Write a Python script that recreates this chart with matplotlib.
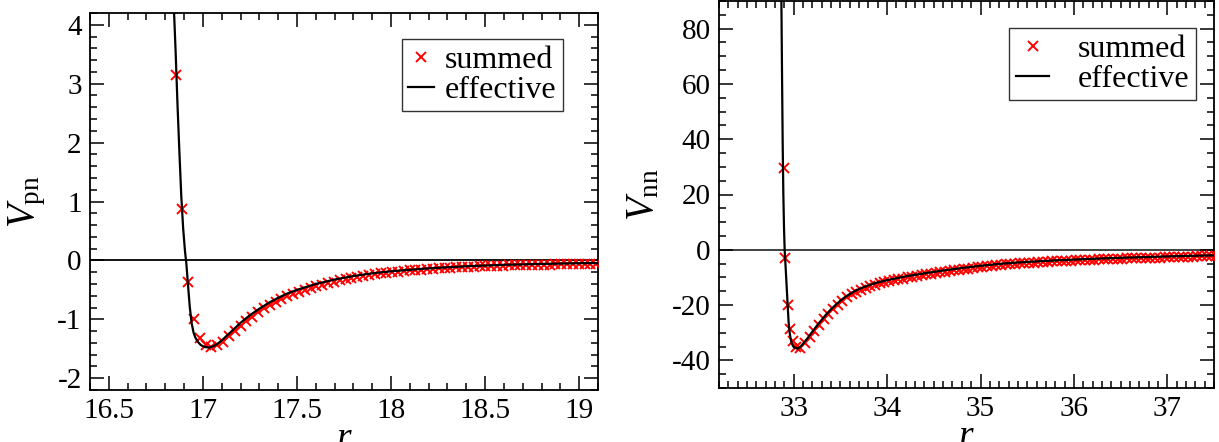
import matplotlib
matplotlib.use('Agg')
import matplotlib.pyplot as plt
from matplotlib.ticker import MultipleLocator, FormatStrFormatter

# =============================================================================
# DATA
# =============================================================================

# --- left panel : V_pn ---
r_pn_summed = [16.859, 16.890, 16.921, 16.952, 16.983, 17.014, 17.045, 17.076, 17.107, 17.138,
               17.169, 17.200, 17.231, 17.262, 17.293, 17.324, 17.355, 17.386, 17.417, 17.448,
               17.479, 17.510, 17.541, 17.572, 17.603, 17.634, 17.665, 17.696, 17.727, 17.758,
               17.789, 17.820, 17.851, 17.882, 17.913, 17.944, 17.975, 18.006, 18.037, 18.068,
               18.099, 18.130, 18.161, 18.192, 18.223, 18.254, 18.285, 18.316, 18.347, 18.378,
               18.409, 18.440, 18.471, 18.502, 18.533, 18.564, 18.595, 18.626, 18.657, 18.688,
               18.719, 18.750, 18.781, 18.812, 18.843, 18.874, 18.905, 18.936, 18.967, 18.998,
               19.029, 19.060, 19.091]
v_pn_summed = [3.15, 0.87, -0.37, -1.00, -1.32, -1.44, -1.47, -1.44, -1.38, -1.29,
               -1.20, -1.11, -1.03, -0.96, -0.88, -0.81, -0.75, -0.70, -0.655, -0.61,
               -0.57, -0.53, -0.495, -0.465, -0.435, -0.41, -0.385, -0.36, -0.335, -0.315,
               -0.295, -0.278, -0.262, -0.248, -0.235, -0.222, -0.21, -0.20, -0.19, -0.18,
               -0.171, -0.163, -0.155, -0.148, -0.141, -0.135, -0.129, -0.124, -0.119, -0.114,
               -0.110, -0.106, -0.102, -0.098, -0.095, -0.092, -0.089, -0.086, -0.083, -0.080,
               -0.078, -0.076, -0.074, -0.072, -0.070, -0.068, -0.066, -0.064, -0.062, -0.060,
               -0.059, -0.058, -0.057]

r_pn_eff = [16.835, 16.845, 16.855, 16.865, 16.875, 16.885, 16.895, 16.905, 16.912, 16.920,
            16.930, 16.940, 16.950, 16.960, 16.975, 16.990, 17.010, 17.035, 17.060, 17.080,
            17.100, 17.130, 17.160, 17.200, 17.250, 17.300, 17.350, 17.400, 17.450,
            17.500, 17.600, 17.700, 17.800, 17.900, 18.000, 18.200, 18.400, 18.600, 18.800,
            19.000, 19.100]
v_pn_eff = [5.2, 4.35, 3.55, 2.65, 1.85, 1.1, 0.55, 0.15, -0.05, -0.38,
            -0.78, -1.06, -1.22, -1.31, -1.39, -1.44, -1.47, -1.48, -1.45, -1.41,
            -1.36, -1.27, -1.18, -1.06, -0.93, -0.82, -0.72, -0.635, -0.56,
            -0.50, -0.40, -0.325, -0.265, -0.22, -0.185, -0.135, -0.10, -0.075, -0.06,
            -0.048, -0.045]

# --- right panel : V_nn ---
r_nn_summed = [32.893, 32.912, 32.939, 32.965, 32.990, 33.020,
               33.07, 33.12, 33.17, 33.22, 33.27, 33.32, 33.37, 33.42, 33.47, 33.52,
               33.57, 33.62, 33.67, 33.72, 33.77, 33.82, 33.87, 33.92, 33.97, 34.02,
               34.07, 34.12, 34.17, 34.22, 34.27, 34.32, 34.37, 34.42, 34.47, 34.52,
               34.57, 34.62, 34.67, 34.72, 34.77, 34.82, 34.87, 34.92, 34.97, 35.02,
               35.07, 35.12, 35.17, 35.22, 35.27, 35.32, 35.37, 35.42, 35.47, 35.52,
               35.57, 35.62, 35.67, 35.72, 35.77, 35.82, 35.87, 35.92, 35.97, 36.02,
               36.07, 36.12, 36.17, 36.22, 36.27, 36.32, 36.37, 36.42, 36.47, 36.52,
               36.57, 36.62, 36.67, 36.72, 36.77, 36.82, 36.87, 36.92, 36.97, 37.02,
               37.07, 37.12, 37.17, 37.22, 37.27, 37.32, 37.37, 37.42, 37.47, 37.52]
v_nn_summed = [29.5, -3.0, -20.0, -28.6, -33.0, -35.1,
               -35.4, -33.8, -31.6, -29.3, -27.2, -25.1, -23.2, -21.5, -19.9, -18.5,
               -17.2, -16.1, -15.2, -14.4, -13.8, -13.2, -12.6, -12.1, -11.7, -11.4,
               -11.0, -10.7, -10.4, -10.0, -9.7, -9.4, -9.1, -8.9, -8.6, -8.4,
               -8.1, -7.9, -7.7, -7.4, -7.2, -7.0, -6.8, -6.6, -6.4, -6.2,
               -6.0, -5.8, -5.6, -5.45, -5.3, -5.15, -5.0, -4.9, -4.8, -4.7,
               -4.6, -4.5, -4.4, -4.3, -4.2, -4.1, -4.05, -3.95, -3.9, -3.8,
               -3.75, -3.7, -3.6, -3.55, -3.5, -3.45, -3.4, -3.3, -3.25, -3.2,
               -3.15, -3.1, -3.05, -3.0, -2.95, -2.9, -2.85, -2.8, -2.75, -2.7,
               -2.65, -2.6, -2.55, -2.5, -2.45, -2.4, -2.4, -2.35, -2.3, -2.3]

r_nn_eff = [32.860, 32.868, 32.875, 32.882, 32.889, 32.896, 32.903, 32.912, 32.925, 32.935,
            32.945, 32.955, 32.965, 32.980, 33.000, 33.040, 33.070, 33.100, 33.150, 33.200,
            33.250, 33.300, 33.350, 33.400, 33.450, 33.500, 33.550, 33.600, 33.650, 33.700,
            33.750, 33.800, 33.850, 33.900, 33.950, 34.000, 34.200, 34.400, 34.600, 34.800,
            35.000, 35.200, 35.400, 35.600, 35.800, 36.000, 36.250, 36.500, 36.750, 37.000,
            37.250, 37.500]
v_nn_eff = [112, 90, 63, 38, 20, 8, 0, -5.5, -13.6, -20.0,
            -26.0, -29.5, -31.8, -34.0, -35.2, -35.8, -35.1, -34.0, -31.9, -29.6,
            -27.4, -25.3, -23.3, -21.5, -19.9, -18.4, -17.1, -16.0, -15.0, -14.2,
            -13.5, -12.9, -12.3, -11.8, -11.4, -11.0, -9.6, -8.5, -7.5, -6.6,
            -5.8, -5.1, -4.6, -4.2, -3.85, -3.55, -3.2, -2.9, -2.65, -2.4,
            -2.2, -2.0]

# =============================================================================
# STYLE
# =============================================================================
plt.rcParams['font.family'] = ['Liberation Serif', 'DejaVu Serif']
plt.rcParams['mathtext.fontset'] = 'custom'
plt.rcParams['mathtext.rm'] = 'Liberation Serif'
plt.rcParams['mathtext.it'] = 'Liberation Serif:italic'
plt.rcParams['axes.unicode_minus'] = False
plt.rcParams['axes.linewidth'] = 1.3


def panneau(ax, r_sum, v_sum, r_eff, v_eff, ylabel, xlim, ylim,
            xmaj, xmin, ymaj, ymin, leg_anchor, hlen, textpad, zero_color):
    ax.axhline(0, color=zero_color, lw=1.3, zorder=1)
    ax.plot(r_sum, v_sum, ls='none', marker='x', ms=7, mew=1.4,
            color='red', label='summed', zorder=3)
    ax.plot(r_eff, v_eff, color='black', lw=1.6, label='effective', zorder=4)

    ax.set_xlim(*xlim)
    ax.set_ylim(*ylim)
    ax.xaxis.set_major_locator(MultipleLocator(xmaj))
    ax.xaxis.set_minor_locator(MultipleLocator(xmin))
    ax.yaxis.set_major_locator(MultipleLocator(ymaj))
    ax.yaxis.set_minor_locator(MultipleLocator(ymin))
    ax.xaxis.set_major_formatter(FormatStrFormatter('%g'))
    ax.yaxis.set_major_formatter(FormatStrFormatter('%g'))

    ax.tick_params(which='both', direction='in', top=True, right=True,
                   width=1.1, labelsize=21, pad=6)
    ax.tick_params(which='major', length=10)
    ax.tick_params(which='minor', length=5)

    # the r label sits on the bottom edge, partly cut as in the original
    ax.set_xlabel(r'$r$', fontsize=27, labelpad=-2)
    ax.set_ylabel(ylabel, fontsize=28, labelpad=7)

    leg = ax.legend(loc='upper right', bbox_to_anchor=leg_anchor, fontsize=23,
                    numpoints=1, fancybox=False, framealpha=1, edgecolor='#333333',
                    handlelength=hlen, handletextpad=textpad, labelspacing=0.02,
                    borderpad=0.2, borderaxespad=0)
    leg.get_frame().set_linewidth(1.0)


fig = plt.figure(figsize=(12.19, 4.42), dpi=100)
ax1 = fig.add_axes([90 / 1219, 52 / 442, 508 / 1219, 377 / 442])
ax2 = fig.add_axes([719 / 1219, 54 / 442, 495 / 1219, 387 / 442])

panneau(ax1, r_pn_summed, v_pn_summed, r_pn_eff, v_pn_eff, r'$V_{\rm pn}$',
        (16.4, 19.1), (-2.2, 4.2), 0.5, 0.1, 1, 0.2, (0.931, 0.931), 0.8, 0.35, 'black')
panneau(ax2, r_nn_summed, v_nn_summed, r_nn_eff, v_nn_eff, r'$V_{\rm nn}$',
        (32.2, 37.5), (-50, 90), 1, 0.1, 20, 5, (0.964, 0.930), 1.05, 0.9, '#333333')

fig.savefig('out.png', dpi=100)
